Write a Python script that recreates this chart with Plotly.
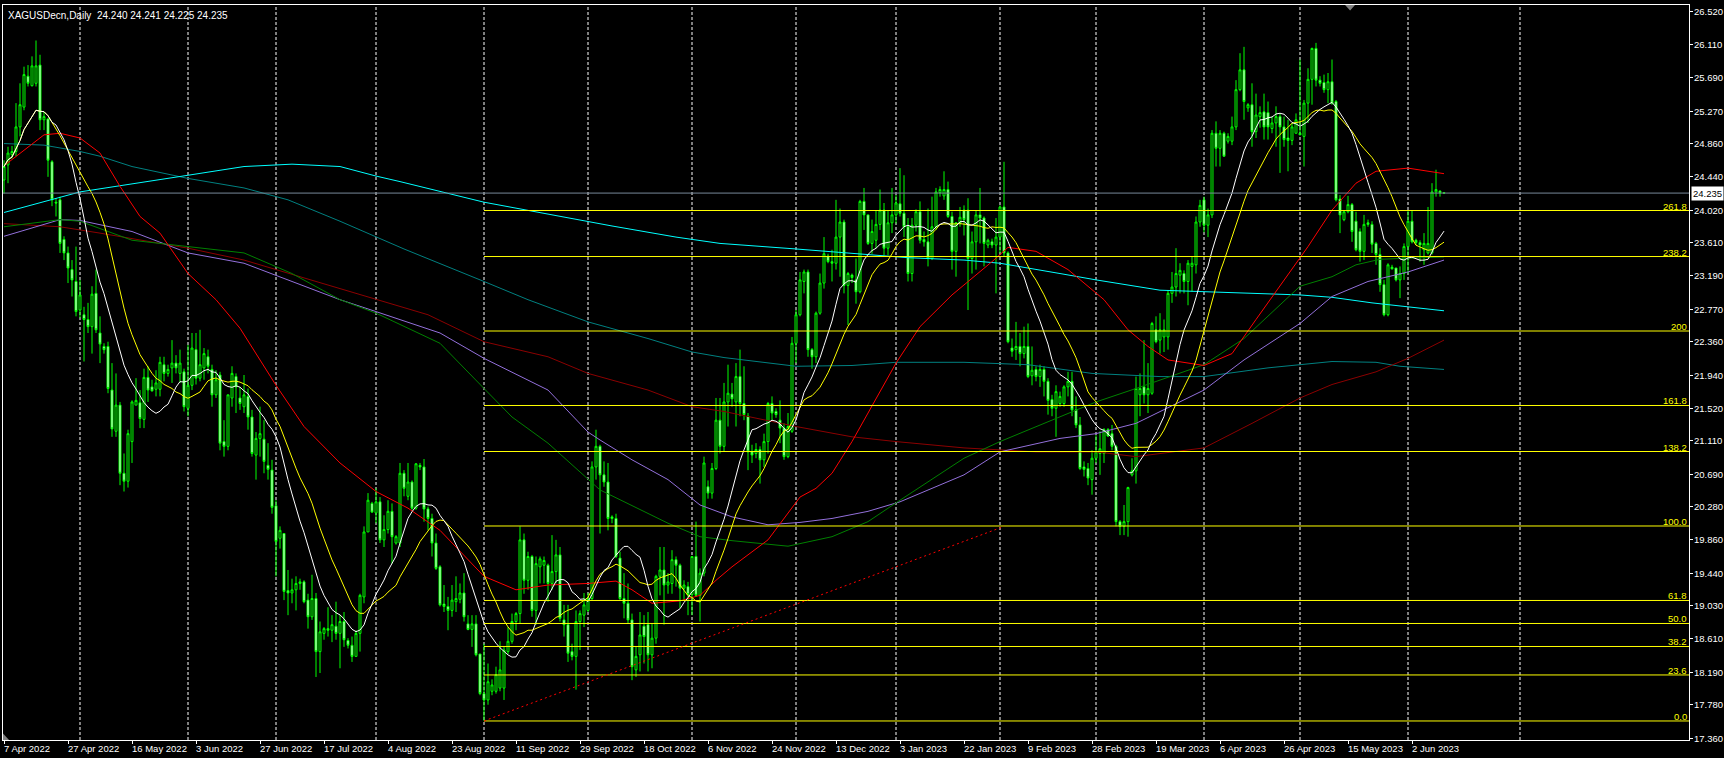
import plotly.graph_objects as go
import pandas as pd

# ---------------- data ----------------
OPEN = [
24.40,24.59,24.72,24.76,25.07,25.32,25.71,25.59,25.62,25.85,
25.16,25.17,24.63,24.12,24.15,23.65,23.48,23.27,23.12,22.76,
22.70,22.64,22.55,22.97,22.47,22.30,22.30,21.75,21.23,21.56,
20.70,20.60,21.10,21.56,21.59,21.38,21.91,21.79,21.76,21.76,
22.07,21.96,22.03,22.09,21.96,21.98,21.52,21.81,22.26,21.90,
22.03,22.17,22.01,21.69,21.94,21.10,21.04,21.65,21.92,21.65,
21.54,21.67,21.41,20.93,21.14,21.13,20.80,20.74,20.29,19.88,
19.94,19.22,19.19,19.23,19.31,19.33,19.10,18.89,19.12,18.45,
18.68,18.74,18.72,18.77,18.68,18.83,18.59,18.53,18.39,18.68,
19.14,19.96,20.32,20.20,20.34,19.86,19.99,20.22,19.82,19.82,
20.70,20.41,20.59,20.26,20.80,20.78,20.25,20.13,19.82,19.52,
19.05,19.02,18.97,19.08,19.11,19.19,18.80,18.73,18.80,18.42,
17.92,17.84,17.95,17.95,17.99,17.99,18.45,18.58,18.83,18.93,
19.86,19.35,19.65,18.97,19.52,19.54,19.54,19.31,19.46,19.67,
18.85,18.79,18.45,18.39,18.83,18.91,18.97,19.12,20.78,21.04,
20.68,20.59,20.15,20.13,19.63,19.12,19.06,18.85,18.22,18.41,
18.77,18.79,18.41,18.62,19.40,19.48,19.29,19.31,19.61,19.54,
19.25,19.27,19.17,19.65,19.16,19.44,20.53,20.45,20.76,21.37,
21.04,21.60,21.70,21.60,21.92,21.58,21.42,20.97,20.95,21.00,
20.87,21.10,21.58,21.48,21.37,21.27,20.91,21.23,22.34,22.70,
23.12,23.24,22.26,22.17,22.72,23.10,23.44,23.37,23.35,23.68,
23.87,23.07,23.20,23.14,22.99,24.13,23.96,23.60,23.64,23.84,
24.02,23.54,23.86,23.96,24.10,23.98,23.81,23.22,23.83,24.00,
23.65,23.62,23.41,23.81,24.24,24.20,24.28,23.94,23.50,23.86,
24.02,24.02,23.41,23.62,23.96,23.92,23.58,23.62,23.58,23.68,
24.06,23.48,22.28,22.26,22.30,22.21,22.30,21.93,22.01,21.92,
22.01,21.86,21.63,21.52,21.58,21.58,21.79,21.86,21.50,21.31,
20.78,20.76,20.62,20.89,20.95,20.95,21.25,21.20,21.04,20.09,
20.03,20.09,20.68,20.73,21.69,21.79,21.69,21.71,22.51,22.38,
22.42,22.42,22.97,23.05,23.20,23.22,23.12,23.31,23.33,23.87,
24.15,23.83,23.96,24.99,24.80,24.99,24.89,24.89,25.07,25.54,
25.79,25.31,25.35,25.01,25.20,25.26,25.25,25.05,25.12,25.20,
25.07,24.93,24.90,24.99,24.99,24.95,25.37,25.67,26.06,25.66,
25.63,25.54,25.64,25.39,24.16,23.90,24.00,24.09,23.88,23.75,
23.50,23.86,23.84,23.60,23.46,23.08,22.70,23.30,23.29,23.14,
23.22,23.56,23.88,23.64,23.61,23.52,23.48,23.48,24.25,24.26,
24.240]

HIGH = [
24.65,24.82,24.83,25.37,25.62,25.83,25.85,25.96,26.16,25.98,
25.26,25.18,24.65,24.17,24.19,23.69,23.56,23.39,23.56,23.14,
22.80,22.85,23.06,23.27,22.68,22.34,22.36,22.09,21.96,21.60,
20.95,21.25,21.62,21.90,21.75,22.02,22.05,21.88,22.00,22.17,
22.17,22.07,22.38,22.19,22.26,22.02,22.32,22.47,22.47,22.51,
22.28,22.26,22.07,22.00,21.98,21.37,21.69,22.05,21.96,21.79,
21.94,21.77,21.50,21.22,21.54,21.37,21.08,20.87,20.36,20.03,
19.94,19.48,19.37,19.40,19.37,19.35,19.18,19.42,19.19,18.83,
18.76,19.01,18.91,19.08,18.91,18.95,18.62,18.64,18.72,19.18,
20.03,20.45,20.34,20.51,20.40,20.17,20.36,20.32,19.92,20.83,
20.74,20.83,20.61,20.83,20.83,20.88,20.28,20.19,19.94,19.54,
19.29,19.14,19.29,19.40,19.31,19.44,18.91,18.91,18.91,18.42,
18.55,18.30,18.10,18.26,18.58,18.51,18.76,18.93,18.95,20.03,
19.94,19.71,19.67,19.65,19.65,19.65,19.56,19.92,19.86,19.77,
19.04,19.04,18.55,18.97,18.97,19.19,19.19,20.85,21.25,21.06,
20.85,20.83,20.17,20.19,19.71,19.44,19.31,18.93,18.51,18.95,
18.91,18.95,18.80,19.42,19.77,19.77,19.44,19.73,19.65,19.56,
19.35,19.33,19.65,20.09,19.50,20.91,20.61,20.83,21.65,21.65,
21.84,22.07,21.84,22.09,22.26,22.05,21.46,21.06,21.08,21.04,
21.20,21.60,21.67,21.52,21.62,21.33,21.46,22.42,22.76,23.24,
23.27,23.27,22.28,22.74,23.22,23.68,23.47,23.52,24.15,24.04,
23.90,23.24,23.22,23.41,24.15,24.30,23.96,23.90,24.02,24.28,
24.11,24.02,24.30,24.21,24.55,24.46,23.92,23.92,24.03,24.13,
23.75,24.04,24.19,24.30,24.32,24.51,24.38,24.00,23.87,24.06,
24.08,24.17,23.75,24.02,24.30,23.94,23.66,23.66,23.92,24.08,
24.63,23.50,22.40,22.61,22.47,22.55,22.59,22.30,22.05,22.07,
22.05,21.90,21.69,21.81,21.73,21.81,21.98,21.98,21.67,21.41,
20.85,20.83,20.99,21.18,21.23,21.27,21.27,21.31,21.06,20.11,
20.30,20.53,20.89,21.92,21.96,22.38,22.09,22.61,22.68,22.72,
22.64,23.01,23.24,23.54,23.35,23.26,23.39,23.43,23.94,24.15,
24.19,24.04,25.03,25.14,25.03,25.01,24.99,25.20,25.66,26.00,
26.08,25.37,25.62,25.49,25.33,25.49,25.39,25.20,25.33,25.24,
25.20,25.16,25.12,25.24,25.92,25.41,25.81,26.07,26.13,25.71,
25.73,25.75,25.92,25.41,24.21,24.02,24.20,24.11,24.00,23.79,
23.96,23.90,23.88,23.62,23.54,23.14,23.35,23.33,23.29,23.31,
23.60,24.02,24.02,23.66,23.64,23.73,24.06,24.36,24.53,24.27,
24.241]

LOW = [
24.23,24.36,24.67,24.70,24.95,25.28,25.58,25.58,25.58,25.03,
25.03,24.44,24.07,23.94,23.48,23.39,23.10,22.93,22.68,22.66,
22.11,22.47,22.21,22.47,22.09,22.21,21.71,21.16,21.16,20.55,
20.47,20.52,20.83,21.56,21.27,21.27,21.60,21.73,21.67,21.67,
21.86,21.92,21.84,21.96,21.84,21.48,21.42,21.75,21.82,21.86,
21.88,21.96,21.54,21.65,20.99,20.91,20.99,21.54,21.46,21.50,
21.46,21.25,20.91,20.62,20.91,20.70,20.62,20.19,19.40,19.75,
19.10,18.91,19.06,18.97,19.23,19.06,18.74,18.85,18.13,18.18,
18.60,18.64,18.57,18.60,18.24,18.51,18.49,18.32,18.39,18.45,
19.06,19.96,20.20,20.07,19.82,19.77,19.94,19.56,19.80,19.77,
20.41,20.36,20.24,20.24,20.74,20.09,19.98,19.65,19.48,19.02,
18.95,18.72,18.89,18.95,19.06,18.83,18.72,18.51,18.39,17.90,
17.575,17.78,17.90,17.92,17.95,17.84,18.42,18.55,18.72,18.81,
19.18,19.23,18.89,18.79,19.31,19.31,19.08,19.23,19.31,18.83,
18.64,18.32,18.34,17.97,18.47,18.76,18.95,19.10,20.62,19.94,
20.53,19.98,20.07,19.63,19.10,18.87,18.80,18.09,18.13,18.20,
18.30,18.20,18.24,18.55,19.16,18.79,19.18,19.18,19.27,19.00,
19.10,18.91,18.91,19.14,18.83,19.40,20.38,20.38,20.74,20.95,
20.97,21.29,21.54,21.29,21.42,21.37,20.74,20.83,20.89,20.57,
20.78,20.95,21.37,21.40,21.08,20.87,20.89,21.21,22.09,22.68,
22.97,22.17,22.02,22.09,22.70,23.03,23.35,23.12,23.27,23.18,
22.97,22.57,23.10,22.84,22.97,23.77,23.58,23.47,23.54,23.77,
23.45,23.45,23.73,23.85,23.94,23.68,23.12,23.12,23.75,23.60,
23.56,23.31,23.39,23.77,24.19,24.15,23.92,23.27,23.18,23.81,
23.70,22.76,23.22,23.27,23.60,23.31,23.54,23.54,22.97,23.48,
23.43,22.34,22.17,22.13,22.05,22.15,21.90,21.81,21.86,21.79,
21.67,21.44,21.42,21.16,21.54,21.54,21.67,21.42,21.27,20.74,
20.66,20.55,20.43,20.83,20.68,20.83,21.16,20.99,20.03,19.92,
19.92,19.90,20.66,20.57,21.42,21.58,21.46,21.69,22.34,22.21,
22.23,22.26,22.85,22.93,22.97,22.97,22.82,22.99,23.22,23.81,
23.74,23.68,23.92,24.57,24.57,24.70,24.86,24.84,25.03,25.52,
25.16,25.26,24.82,24.93,25.06,24.91,24.91,24.99,24.82,24.49,
24.82,24.51,24.84,24.99,24.97,24.57,25.12,25.35,25.58,25.58,
25.50,25.37,25.35,24.13,23.73,23.88,23.98,23.62,23.50,23.37,
23.39,23.81,23.48,23.33,22.99,22.68,22.68,23.27,23.12,22.91,
23.14,23.22,23.60,23.58,23.37,23.33,23.46,23.46,24.19,24.19,
24.225]

CLOSE = [
24.57,24.74,24.76,25.07,25.35,25.73,25.62,25.84,25.84,25.16,
25.20,24.65,24.15,24.11,23.60,23.48,23.29,23.14,22.74,22.95,
22.64,22.55,22.96,22.51,22.33,22.26,21.77,21.26,21.56,20.70,
20.60,21.20,21.60,21.62,21.39,21.91,21.75,21.74,21.84,22.10,
21.96,22.01,22.09,22.03,22.09,21.54,21.81,22.28,21.90,22.07,
22.21,22.05,21.69,21.88,21.08,21.04,21.69,21.96,21.79,21.58,
21.69,21.41,20.95,21.14,21.20,20.85,20.75,20.27,19.84,19.98,
19.21,19.19,19.23,19.31,19.33,19.08,18.89,19.12,18.45,18.70,
18.74,18.72,18.79,18.68,18.83,18.60,18.53,18.39,18.68,19.16,
19.96,20.36,20.21,20.34,19.86,19.99,20.22,19.90,19.90,20.70,
20.51,20.59,20.26,20.82,20.78,20.25,20.13,19.82,19.50,19.04,
19.02,18.97,19.10,19.12,19.19,18.89,18.73,18.80,18.41,17.92,
17.84,18.07,18.03,18.16,18.22,18.47,18.58,18.83,18.93,19.86,
19.35,19.65,18.97,19.56,19.62,19.60,19.31,19.46,19.67,18.87,
18.79,18.43,18.39,18.83,18.93,19.04,19.12,20.78,21.04,20.68,
20.59,20.13,20.13,19.65,19.12,19.06,18.85,18.26,18.39,18.66,
18.64,18.41,18.62,19.40,19.48,19.29,19.33,19.61,19.54,19.25,
19.29,19.17,19.65,19.16,19.44,20.83,20.45,20.76,21.37,21.04,
21.60,21.71,21.64,21.92,21.58,21.44,20.97,20.93,21.00,20.87,
21.10,21.58,21.46,21.44,21.27,20.91,21.29,22.34,22.70,23.14,
23.24,22.26,22.17,22.72,23.10,23.47,23.37,23.35,23.68,23.87,
23.07,23.22,23.17,22.99,24.13,23.96,23.60,23.75,23.84,24.02,
23.54,23.86,23.96,24.11,23.98,23.81,23.22,23.83,24.00,23.64,
23.62,23.41,23.81,24.25,24.28,24.28,23.94,23.50,23.86,23.93,
23.90,23.41,23.62,23.96,23.92,23.60,23.64,23.58,23.68,24.06,
23.48,22.36,22.24,22.30,22.21,22.30,21.92,22.00,21.92,22.01,
21.86,21.62,21.52,21.73,21.67,21.79,21.86,21.50,21.31,20.76,
20.75,20.64,20.89,20.97,21.01,21.25,21.17,21.04,20.09,20.03,
20.09,20.52,20.73,21.77,21.77,21.69,21.77,22.59,22.36,22.51,
22.51,22.97,23.05,23.22,23.26,23.12,23.35,23.35,23.87,24.08,
23.83,23.96,24.99,24.80,24.99,24.70,24.95,25.07,25.54,25.79,
25.39,25.35,25.01,25.22,25.25,25.07,25.07,25.12,25.20,25.07,
24.91,24.90,25.07,25.16,24.97,25.37,25.67,26.06,25.66,25.62,
25.54,25.64,25.37,24.15,23.96,24.00,24.09,23.75,23.52,23.50,
23.84,23.84,23.59,23.46,23.08,22.70,23.33,23.28,23.14,23.22,
23.56,23.88,23.62,23.61,23.58,23.60,23.60,24.25,24.28,24.24,
24.235]

# long moving averages (bar index, value)
RED_BARS = [0,4,10,14,19,24,29,34,39,46,53,59,68,75,84,93,101,109,120,128,136,146,153,157,162,169,174,178,182,191,199,203,207,212,223,229,237,247,251,258,266,275,281,286,291,300,307,313,319,326,332,338,343,351,360]
RED_VALS = [24.58,24.74,24.97,24.99,24.93,24.74,24.32,23.94,23.73,23.22,22.89,22.53,21.81,21.29,20.83,20.47,20.26,19.98,19.40,19.23,19.29,19.31,19.34,19.23,19.06,19.09,19.16,19.35,19.52,19.86,20.40,20.51,20.70,21.10,22.09,22.55,22.95,23.37,23.55,23.50,23.27,22.89,22.51,22.30,22.13,22.06,22.21,22.64,23.06,23.56,24.02,24.36,24.51,24.55,24.48]

GREEN_BARS = [0,14,19,32,46,60,72,84,93,101,109,120,127,136,149,166,174,182,196,207,216,224,240,249,264,273,283,300,310,324,332,338,344,360]
GREEN_VALS = [23.81,23.90,23.88,23.64,23.56,23.48,23.22,22.89,22.72,22.53,22.34,21.77,21.41,21.08,20.49,20.07,19.90,19.85,19.78,19.90,20.09,20.36,20.89,21.10,21.41,21.60,21.77,22.07,22.40,23.06,23.18,23.33,23.40,23.43]

PURPLE_BARS = [0,14,19,32,46,60,72,84,93,109,120,136,146,149,157,166,174,182,191,199,207,216,224,240,249,264,273,283,300,310,324,332,341,351,360]
PURPLE_VALS = [23.69,23.90,23.89,23.75,23.48,23.35,23.12,22.89,22.74,22.47,22.15,21.75,21.22,21.12,20.87,20.62,20.30,20.15,20.05,20.08,20.13,20.22,20.34,20.68,20.97,21.14,21.20,21.33,21.75,22.13,22.59,22.93,23.12,23.24,23.39]

MAROON_BARS = [0,14,24,34,46,60,76,93,106,120,136,146,161,172,180,198,212,223,240,258,273,283,300,312,324,332,343,351,360]
MAROON_VALS = [23.85,23.81,23.73,23.64,23.54,23.39,23.15,22.89,22.70,22.36,22.17,21.96,21.75,21.54,21.48,21.29,21.16,21.10,21.02,20.97,20.97,20.91,21.02,21.33,21.65,21.82,21.98,22.15,22.38]

CYAN_BARS = [0,11,19,46,60,72,84,93,99,120,136,152,168,179,198,217,226,240,249,264,273,289,300,310,324,332,342,351,360]
CYAN_VALS = [23.99,24.14,24.25,24.46,24.57,24.60,24.57,24.45,24.38,24.12,23.97,23.82,23.68,23.60,23.53,23.46,23.42,23.39,23.35,23.22,23.14,23.01,22.99,22.98,22.95,22.92,22.85,22.80,22.75]

TEAL_BARS = [0,10,19,24,32,46,60,71,84,100,120,131,146,161,172,180,198,212,223,240,256,272,289,300,316,332,343,349,360]
TEAL_VALS = [24.86,24.84,24.76,24.70,24.57,24.42,24.30,24.15,23.88,23.53,23.12,22.89,22.61,22.40,22.23,22.16,22.05,22.06,22.10,22.10,22.07,21.96,21.92,21.92,22.03,22.11,22.10,22.05,22.01]

DATE_LABELS = ["7 Apr 2022","27 Apr 2022","16 May 2022","3 Jun 2022","27 Jun 2022",
               "17 Jul 2022","4 Aug 2022","23 Aug 2022","11 Sep 2022","29 Sep 2022",
               "18 Oct 2022","6 Nov 2022","24 Nov 2022","13 Dec 2022","3 Jan 2023",
               "22 Jan 2023","9 Feb 2023","28 Feb 2023","19 Mar 2023","6 Apr 2023",
               "26 Apr 2023","15 May 2023","2 Jun 2023"]
LABEL_STEP = 16
MONTH_START_BARS = [19,46,68,93,120,146,172,198,223,249,273,300,324,351,379]

PRICE_LABELS = ["17.360","17.780","18.190","18.610","19.030","19.440","19.860","20.280",
                "20.690","21.110","21.520","21.940","22.360","22.770","23.190","23.610",
                "24.020","24.440","24.860","25.270","25.690","26.110","26.520"]

FIB_LOW = 17.575
FIB_HIGH = 20.035
FIB_START_BAR = 120
FIB_LEVELS = [0.0, 23.6, 38.2, 50.0, 61.8, 100.0, 138.2, 161.8, 200.0, 238.2, 261.8]
FIB_TEXT = ["0.0","23.6","38.2","50.0","61.8","100.0","138.2","161.8","200","238.2","261.8"]

TREND_BARS = [120, 250]
TREND_VALS = [17.575, 20.03]

LAST_PRICE = 24.235
LAST_PRICE_TEXT = "24.235"
TITLE = "XAGUSDecn,Daily  24.240 24.241 24.225 24.235"

# ---------------- figure ----------------
FONT = "Liberation Sans, Arial, sans-serif"
FS = 9.5
n = len(CLOSE)
bars = list(range(n))
X_MAX = 421.25
X_MIN = -0.25

fig = go.Figure()

fig.add_trace(go.Candlestick(
    x=bars, open=OPEN, high=HIGH, low=LOW, close=CLOSE,
    increasing=dict(line=dict(color="#00FF00", width=1), fillcolor="#000000"),
    decreasing=dict(line=dict(color="#00FF00", width=1), fillcolor="#FFFFFF"),
    whiskerwidth=0, hoverinfo="skip", showlegend=False))

close_s = pd.Series(CLOSE)
ma13 = close_s.rolling(13, min_periods=1).mean()
ma21 = close_s.rolling(21, min_periods=1).mean()

def add_line(xs, ys, color):
    fig.add_trace(go.Scatter(x=xs, y=ys, mode="lines",
                             line=dict(color=color, width=1),
                             hoverinfo="skip", showlegend=False))

add_line(TEAL_BARS, TEAL_VALS, "#008080")
add_line(CYAN_BARS, CYAN_VALS, "#00FFFF")
add_line(MAROON_BARS, MAROON_VALS, "#8B0000")
add_line(PURPLE_BARS, PURPLE_VALS, "#9370DB")
add_line(GREEN_BARS, GREEN_VALS, "#008000")
add_line(RED_BARS, RED_VALS, "#FF0000")
add_line(bars, list(ma21), "#FFFF00")
add_line(bars, list(ma13), "#FFFFFF")

shapes = []
# monthly dashed grid
for b in MONTH_START_BARS:
    shapes.append(dict(type="line", xref="x", yref="paper", x0=b, x1=b, y0=0, y1=1,
                       line=dict(color="#FFFFFF", width=1, dash="3px,2px"), layer="below"))
# current price line
shapes.append(dict(type="line", xref="paper", yref="y", x0=0, x1=1, y0=LAST_PRICE, y1=LAST_PRICE,
                   line=dict(color="#778899", width=1), layer="above"))
# fibonacci levels
fib_prices = [FIB_LOW + lv / 100.0 * (FIB_HIGH - FIB_LOW) for lv in FIB_LEVELS]
for p in fib_prices:
    shapes.append(dict(type="line", xref="x", yref="y", x0=FIB_START_BAR, x1=X_MAX, y0=p, y1=p,
                       line=dict(color="#FFFF00", width=1), layer="above"))
# trend line
shapes.append(dict(type="line", xref="x", yref="y", x0=TREND_BARS[0], x1=TREND_BARS[1],
                   y0=TREND_VALS[0], y1=TREND_VALS[1],
                   line=dict(color="#FF0000", width=1, dash="2px,3px"), layer="above"))
# chart shift marker (top) and small corner marker (bottom-left)
shapes.append(dict(type="path", xref="paper", yref="paper",
                   path="M 0.7960,1.0 L 0.8019,1.0 L 0.7990,0.9925 Z",
                   fillcolor="#808080", line=dict(width=0), layer="above"))
shapes.append(dict(type="path", xref="paper", yref="paper",
                   path="M 0.0,0.0 L 0.0,0.009 L 0.0036,0.0 Z",
                   fillcolor="#808080", line=dict(width=0), layer="above"))

annotations = []
label_bars = [k * LABEL_STEP for k in range(len(DATE_LABELS))]
for b, t in zip(label_bars, DATE_LABELS):
    annotations.append(dict(x=b, y=0, xref="x", yref="paper", text=t, showarrow=False,
                            xanchor="left", yanchor="top", yshift=-2, xshift=-1, borderpad=0,
                            font=dict(family=FONT, size=FS, color="#FFFFFF")))
# right price scale labels
for s in PRICE_LABELS:
    annotations.append(dict(x=1, y=float(s), xref="paper", yref="y", text=s, showarrow=False,
                            xanchor="left", yanchor="middle", xshift=4, borderpad=0,
                            font=dict(family=FONT, size=FS, color="#FFFFFF")))
for p, t in zip(fib_prices, FIB_TEXT):
    annotations.append(dict(x=1, y=p, xref="paper", yref="y", text=t, showarrow=False,
                            xanchor="right", yanchor="bottom", xshift=-1, yshift=-2, borderpad=0,
                            font=dict(family=FONT, size=FS, color="#FFFF00")))
annotations.append(dict(x=0, y=1, xref="paper", yref="paper", text=TITLE, showarrow=False,
                        xanchor="left", yanchor="top", xshift=3, yshift=-3,
                        font=dict(family=FONT, size=10, color="#FFFFFF")))
annotations.append(dict(x=1, y=LAST_PRICE, xref="paper", yref="y", text=LAST_PRICE_TEXT,
                        showarrow=False, xanchor="left", yanchor="middle", xshift=2,
                        bgcolor="#FFFFFF", borderpad=1,
                        font=dict(family=FONT, size=FS, color="#000000")))

fig.update_layout(
    width=1724, height=758,
    margin=dict(l=3, r=35, t=5, b=18),
    paper_bgcolor="#000000", plot_bgcolor="#000000",
    showlegend=False,
    shapes=shapes, annotations=annotations,
    xaxis=dict(range=[X_MIN, X_MAX], showgrid=False, zeroline=False,
               showline=True, linecolor="#FFFFFF", linewidth=1, mirror=True,
               tickvals=label_bars, ticktext=[""] * len(label_bars),
               ticks="outside", ticklen=3, tickcolor="#FFFFFF",
               rangeslider=dict(visible=False), fixedrange=True),
    yaxis=dict(range=[17.335, 26.608], side="right", showgrid=False, zeroline=False,
               showline=True, linecolor="#FFFFFF", linewidth=1, mirror=True,
               tickvals=[float(s) for s in PRICE_LABELS], ticktext=[""] * len(PRICE_LABELS),
               ticks="outside", ticklen=3, tickcolor="#FFFFFF", fixedrange=True),
)

# remove the default page margin so the 1724x758 figure fills the window exactly
PAGE_FIX = ("document.body.style.margin='0';document.body.style.padding='0';"
            "document.body.style.overflow='hidden';"
            "document.documentElement.style.overflow='hidden';"
            "document.body.style.background='#000000';")

fig.write_html("out.html", config={"displayModeBar": False}, post_script=PAGE_FIX)
